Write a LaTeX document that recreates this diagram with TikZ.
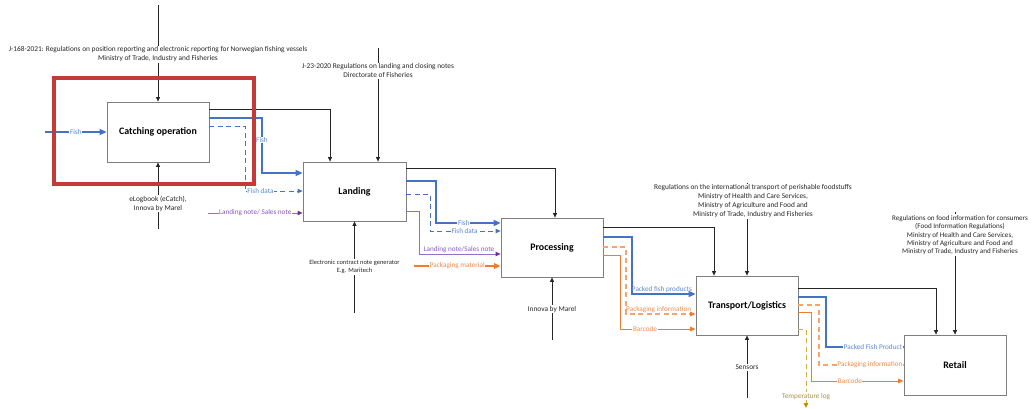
\documentclass[tikz,border=0pt]{standalone}
\usepackage{fontspec}
\setmainfont{Carlito}
\usetikzlibrary{arrows.meta}
\definecolor{bflow}{HTML}{4472C4}
\definecolor{blab}{HTML}{5B87D2}
\definecolor{pline}{HTML}{9A6BCC}
\definecolor{pdark}{HTML}{7030A0}
\definecolor{plab}{HTML}{8A57C4}
\definecolor{oflow}{HTML}{ED7D31}
\definecolor{olight}{HTML}{F4A46C}
\definecolor{olab}{HTML}{F08C4B}
\definecolor{gflow}{HTML}{D2AE3E}
\definecolor{glab}{HTML}{A8904A}
\definecolor{gdark}{HTML}{BF9000}
\definecolor{boxgray}{HTML}{7F7F7F}
\definecolor{hred}{HTML}{C43A35}
\begin{document}
\begin{tikzpicture}[x=1pt,y=-1pt,
  box/.style={draw=boxgray, line width=0.8pt, fill=white, minimum width=102pt, minimum height=60pt, inner sep=0pt, font=\fontsize{9.9}{11}\selectfont\bfseries},
  ctrl/.style={draw=black!85, line width=0.7pt, -{Triangle[length=4.5pt,width=4pt]}},
  clab/.style={font=\fontsize{7.35}{9}\selectfont, align=center, fill=white, inner sep=1pt, text=black!85},
  flab/.style={font=\fontsize{7.2}{8}\selectfont, fill=white, inner sep=0.6pt},
  bthick/.style={draw=bflow, line width=2pt, -{Triangle[length=7pt,width=6pt]}},
  bdash/.style={draw=bflow, line width=0.9pt, dash pattern=on 5pt off 3.5pt, -{Triangle[length=5pt,width=4.5pt]}},
  purp/.style={draw=pline, line width=1pt, -{Triangle[length=5pt,width=4.5pt,color=pdark]}},
  othick/.style={draw=oflow, line width=1.8pt, -{Triangle[length=6.5pt,width=5.5pt]}},
  oline/.style={draw=oflow, line width=1pt, -{Triangle[length=5.5pt,width=4.5pt]}},
  odash/.style={draw=olight, line width=1.1pt, dash pattern=on 5pt off 3.5pt, -{Triangle[length=5.5pt,width=4.5pt,color=oflow]}},
  gdash/.style={draw=gflow, line width=1pt, dash pattern=on 5pt off 3.5pt, -{Triangle[length=5pt,width=4.5pt,color=gdark]}}
]
\useasboundingbox (0,0) rectangle (1032,409);

% boxes
\node[box] (catch) at (158,132) {Catching operation};
\node[box, minimum width=103pt, minimum height=59pt] (land) at (354.5,191.5) {Landing};
\node[box, minimum height=59pt] (proc) at (552,247.5) {Processing};
\node[box, minimum height=59pt] (trans) at (747,305.5) {Transport/Logistics};
\node[box] (retail) at (955,365) {Retail};

% free ends
\coordinate (fishsrc) at (45,132);
\coordinate (catchctl) at (158,5);
\coordinate (catchmech) at (158,229);
\coordinate (landctl) at (378,48);
\coordinate (landmech) at (354.5,313);
\coordinate (notesrc) at (208,213);
\coordinate (pkgsrc) at (414,266);
\coordinate (procmech) at (552,340);
\coordinate (transctl) at (747,183);
\coordinate (transmech) at (747,398);
\coordinate (retctl) at (955,212);
\coordinate (templog) at (806,408);

% catching operation
\draw[ctrl] (catchctl) -- node[clab,pos=.51]{J-168-2021: Regulations on position reporting and electronic reporting for Norwegian fishing vessels\\Ministry of Trade, Industry and Fisheries} (catch.north);
\draw[ctrl] (catchmech) -- node[clab,pos=.38]{eLogbook (eCatch),\\Innova by Marel} (catch.south);
\draw[bthick] (fishsrc) -- node[flab,text=blab]{Fish} (catch.west);
\draw[ctrl] (catch.east |- 0,109) -| (land.north -| 330,0);
\draw[bthick] (catch.east |- 0,118) -- (262,118) -- node[flab,pos=.4,text=blab]{Fish} (262,173) -- (land.west |- 0,173);
\draw[bdash] (catch.east |- 0,126) -- (245,126) -- (245,191) -- node[flab,pos=.27,text=blab]{Fish data} (land.west |- 0,191);
\draw[purp] (notesrc) -- node[flab,text=plab]{Landing note/ Sales note} (land.west |- 0,213);

% landing
\draw[ctrl] (landctl) -- node[clab,pos=.2]{J-23-2020 Regulations on landing and closing notes\\Directorate of Fisheries} (land.north -| landctl);
\draw[ctrl] (landmech) -- node[clab,pos=.5,font=\fontsize{6.5}{8}\selectfont]{Electronic contract note generator\\E.g. Maritech} (land.south);
\draw[ctrl] (land.east |- 0,168) -| (proc.north -| 555,0);
\draw[bthick] (land.east |- 0,181) -- (436,181) -- (436,223) -- node[flab,pos=.43,text=blab]{Fish} (proc.west |- 0,223);
\draw[bdash] (land.east |- 0,194) -- (430,194) -- (430,231) -- node[flab,pos=.49,text=blab]{Fish data} (proc.west |- 0,231);
\draw[purp] (land.east |- 0,211) -- (419,211) -- (419,254) -- node[flab,pos=.49,above=0pt,fill=none,text=plab]{Landing note/Sales note} (proc.west |- 0,254);
\draw[othick] (pkgsrc) -- node[flab,text=olab]{Packaging material} (proc.west |- 0,266);

% processing
\draw[ctrl] (procmech) -- node[clab,pos=.49]{Innova by Marel} (proc.south);
\draw[ctrl] (proc.east |- 0,227) -| (trans.north -| 714,0);
\draw[bthick] (proc.east |- 0,237) -- (632,237) -- (632,294) -- node[flab,pos=.47,above=0pt,fill=none,text=blab]{Packed fish products} (trans.west |- 0,294);
\draw[odash] (proc.east |- 0,247) -- (626,247) -- (626,314) -- node[flab,pos=.47,above=0pt,fill=none,text=olab]{Packaging information} (trans.west |- 0,314);
\draw[oline] (proc.east |- 0,255) -- (620,255) -- (620,329) -- node[flab,pos=.33,text=olab]{Barcode} (trans.west |- 0,329);

% transport
\draw[ctrl] (transctl) -- node[clab,pos=.2,xshift=6pt]{Regulations on the international transport of perishable foodstuffs\\Ministry of Health and Care Services,\\Ministry of Agriculture and Food and\\Ministry of Trade, Industry and Fisheries} (trans.north);
\draw[ctrl] (transmech) -- node[clab,pos=.49]{Sensors} (trans.south);
\draw[ctrl] (trans.east |- 0,288) -| (retail.north -| 936,0);
\draw[bthick,-] (trans.east |- 0,297) -- (826,297) -- (826,347) -- node[flab,pos=1,anchor=east,text=blab]{Packed Fish Product} (retail.west |- 0,347);
\draw[odash,-] (trans.east |- 0,305) -- (819,305) -- (819,365) -- node[flab,pos=1,anchor=east,text=olab]{Packaging information} (retail.west |- 0,365);
\draw[oline] (trans.east |- 0,312) -- (811,312) -- (811,381) -- node[flab,pos=.42,text=olab]{Barcode} (retail.west |- 0,381);
\draw[gdash] (trans.east |- 0,329) -- (806,329) -- node[flab,pos=.85,text=glab]{Temperature log} (templog);

% retail
\draw[ctrl] (retctl) -- node[clab,pos=.19,xshift=5pt,font=\fontsize{7.1}{8.4}\selectfont]{Regulations on food information for consumers\\(Food Information Regulations)\\Ministry of Health and Care Services,\\Ministry of Agriculture and Food and\\Ministry of Trade, Industry and Fisheries} (retail.north);

% highlight
\node[draw=hred, line width=4pt, minimum width=200pt, minimum height=105.7pt, inner sep=0pt] (focus) at (153.7,130.8) {};
\end{tikzpicture}
\end{document}
